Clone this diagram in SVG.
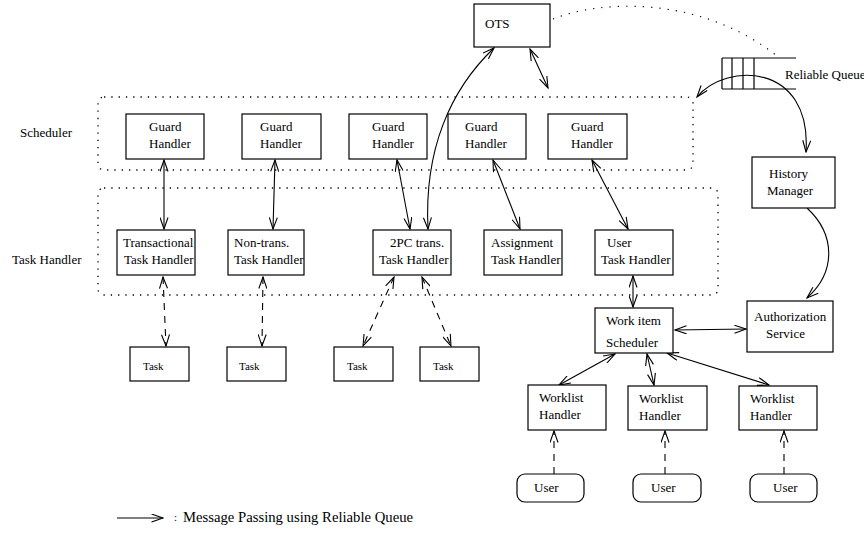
<svg xmlns="http://www.w3.org/2000/svg" width="864" height="533" viewBox="0 0 864 533">
  <defs>
    <style>
      .box { fill: #fff; stroke: #000; stroke-width: 1.2; }
      .region { fill: none; stroke: #000; stroke-width: 1.3; stroke-dasharray: 1.3 6; }
      .lbl { font-family: "Liberation Serif", "Times New Roman", serif; font-size: 13px; fill: #000; }
      .small { font-size: 11px; }
      .link { fill: none; stroke: #000; stroke-width: 1.1; }
      .dash { stroke-dasharray: 7 6; }
      .both { marker-start: url(#vhead); marker-end: url(#vhead); }
      .end { marker-end: url(#vhead); }
    </style>
    <marker id="vhead" viewBox="0 0 13 9" refX="12" refY="4.5" markerWidth="13" markerHeight="9" markerUnits="userSpaceOnUse" orient="auto-start-reverse">
      <path d="M0.5,0.5 L12,4.5 L0.5,8.5" fill="none" stroke="#000" stroke-width="1.1" stroke-dasharray="none"/>
    </marker>
  </defs>
  <rect width="864" height="533" fill="#fff"/>

  <!-- layer regions -->
  <g id="scheduler-region">
    <rect class="region" x="98" y="97" width="595" height="73" rx="6"/>
    <text class="lbl" x="20" y="137">Scheduler</text>
  </g>
  <g id="task-handler-region">
    <rect class="region" x="98" y="188" width="620" height="107" rx="6"/>
    <text class="lbl" x="12" y="264">Task Handler</text>
  </g>

  <!-- connectors -->
  <g id="connectors">
    <path class="link" d="M553 19 C600 0, 700 -5, 777 56" stroke-dasharray="1.3 7"/>
    <path class="link both" d="M428 229 C424 150, 450 90, 494 48"/>
    <line class="link both" x1="530" y1="49" x2="548" y2="88"/>
    <path class="link both" d="M697 97 C725 62, 812 62, 806 152"/>
    <path class="link end" d="M807 208 C836 235, 836 272, 807 298"/>

    <line class="link both" x1="164" y1="160" x2="164" y2="229"/>
    <line class="link both" x1="275" y1="160" x2="273" y2="229"/>
    <line class="link both" x1="397" y1="160" x2="410" y2="229"/>
    <line class="link both" x1="493" y1="160" x2="520" y2="229"/>
    <line class="link both" x1="592" y1="160" x2="628" y2="229"/>

    <line class="link both" x1="633" y1="276" x2="633" y2="307"/>
    <line class="link both" x1="675" y1="330" x2="746" y2="329"/>
    <line class="link both" x1="615" y1="354" x2="559" y2="385"/>
    <line class="link both" x1="647" y1="354" x2="654" y2="385"/>
    <line class="link both" x1="667" y1="353" x2="769" y2="385"/>

    <line class="link dash end" x1="554" y1="474" x2="554" y2="431"/>
    <line class="link dash end" x1="665" y1="474" x2="665" y2="431"/>
    <line class="link dash end" x1="784" y1="474" x2="784" y2="431"/>

    <line class="link dash both" x1="163" y1="277" x2="166" y2="346"/>
    <line class="link dash both" x1="263" y1="277" x2="262" y2="346"/>
    <line class="link dash both" x1="394" y1="277" x2="363" y2="346"/>
    <line class="link dash both" x1="422" y1="277" x2="451" y2="346"/>
  </g>

  <!-- transaction service and queue -->
  <g id="ots">
    <rect class="box" x="474" y="4" width="76" height="43"/>
    <text class="lbl" x="485" y="28">OTS</text>
  </g>
  <g id="reliable-queue">
    <path d="M722 58 H796 M722 89 H796 M722 58 V89 M732 58 V89 M743 58 V89 M754 58 V89" fill="none" stroke="#000" stroke-width="1.2"/>
    <text class="lbl" x="785" y="79">Reliable Queue</text>
  </g>
  <g id="history-manager">
    <rect class="box" x="752" y="157" width="83" height="51"/>
    <text class="lbl" x="769" y="178">History</text>
    <text class="lbl" x="767" y="195">Manager</text>
  </g>
  <g id="authorization-service">
    <rect class="box" x="747" y="301" width="86" height="51"/>
    <text class="lbl" x="754" y="321">Authorization</text>
    <text class="lbl" x="766" y="338">Service</text>
  </g>

  <!-- guard handlers -->
  <g id="guard-1">
    <rect class="box" x="126" y="114" width="78" height="45"/>
    <text class="lbl" x="149" y="131">Guard</text>
    <text class="lbl" x="149" y="148">Handler</text>
  </g>
  <g id="guard-2">
    <rect class="box" x="242" y="114" width="79" height="45"/>
    <text class="lbl" x="260" y="131">Guard</text>
    <text class="lbl" x="260" y="148">Handler</text>
  </g>
  <g id="guard-3">
    <rect class="box" x="349" y="114" width="78" height="45"/>
    <text class="lbl" x="372" y="131">Guard</text>
    <text class="lbl" x="372" y="148">Handler</text>
  </g>
  <g id="guard-4">
    <rect class="box" x="448" y="114" width="78" height="45"/>
    <text class="lbl" x="465" y="131">Guard</text>
    <text class="lbl" x="465" y="148">Handler</text>
  </g>
  <g id="guard-5">
    <rect class="box" x="548" y="114" width="79" height="45"/>
    <text class="lbl" x="571" y="131">Guard</text>
    <text class="lbl" x="571" y="148">Handler</text>
  </g>

  <!-- task handlers -->
  <g id="transactional-th">
    <rect class="box" x="117" y="230" width="78" height="45"/>
    <text class="lbl" x="123" y="247">Transactional</text>
    <text class="lbl" x="124" y="264">Task Handler</text>
  </g>
  <g id="nontrans-th">
    <rect class="box" x="228" y="230" width="76" height="45"/>
    <text class="lbl" x="234" y="247">Non-trans.</text>
    <text class="lbl" x="234" y="264">Task Handler</text>
  </g>
  <g id="twopc-th">
    <rect class="box" x="373" y="230" width="78" height="45"/>
    <text class="lbl" x="390" y="247">2PC trans.</text>
    <text class="lbl" x="379" y="264">Task Handler</text>
  </g>
  <g id="assignment-th">
    <rect class="box" x="484" y="230" width="78" height="45"/>
    <text class="lbl" x="491" y="247">Assignment</text>
    <text class="lbl" x="491" y="264">Task Handler</text>
  </g>
  <g id="user-th">
    <rect class="box" x="595" y="230" width="78" height="45"/>
    <text class="lbl" x="607" y="247">User</text>
    <text class="lbl" x="601" y="264">Task Handler</text>
  </g>

  <!-- tasks -->
  <g id="task-1">
    <rect class="box" x="130" y="347" width="59" height="34"/>
    <text class="lbl small" x="143" y="370">Task</text>
  </g>
  <g id="task-2">
    <rect class="box" x="227" y="347" width="59" height="34"/>
    <text class="lbl small" x="239" y="370">Task</text>
  </g>
  <g id="task-3">
    <rect class="box" x="334" y="347" width="59" height="34"/>
    <text class="lbl small" x="347" y="370">Task</text>
  </g>
  <g id="task-4">
    <rect class="box" x="420" y="347" width="59" height="34"/>
    <text class="lbl small" x="433" y="370">Task</text>
  </g>

  <!-- work item scheduling -->
  <g id="work-item-scheduler">
    <rect class="box" x="595" y="308" width="78" height="45"/>
    <text class="lbl" x="606" y="325">Work item</text>
    <text class="lbl" x="606" y="347">Scheduler</text>
  </g>
  <g id="worklist-1">
    <rect class="box" x="528" y="385" width="78" height="45"/>
    <text class="lbl" x="539" y="402">Worklist</text>
    <text class="lbl" x="539" y="419">Handler</text>
  </g>
  <g id="worklist-2">
    <rect class="box" x="628" y="386" width="79" height="44"/>
    <text class="lbl" x="639" y="403">Worklist</text>
    <text class="lbl" x="639" y="420">Handler</text>
  </g>
  <g id="worklist-3">
    <rect class="box" x="739" y="386" width="78" height="44"/>
    <text class="lbl" x="750" y="403">Worklist</text>
    <text class="lbl" x="750" y="420">Handler</text>
  </g>

  <!-- users -->
  <g id="user-1">
    <rect class="box" x="517" y="474" width="67" height="28" rx="8"/>
    <text class="lbl" x="534" y="492">User</text>
  </g>
  <g id="user-2">
    <rect class="box" x="633" y="474" width="68" height="28" rx="8"/>
    <text class="lbl" x="651" y="492">User</text>
  </g>
  <g id="user-3">
    <rect class="box" x="750" y="474" width="67" height="28" rx="8"/>
    <text class="lbl" x="773" y="492">User</text>
  </g>

  <!-- legend -->
  <g id="legend">
    <line class="link end" x1="117" y1="518" x2="163" y2="518"/>
    <text class="lbl small" x="174" y="521">:</text>
    <text class="lbl" x="183" y="522" style="font-size:14.7px">Message Passing using Reliable Queue</text>
  </g>
</svg>
